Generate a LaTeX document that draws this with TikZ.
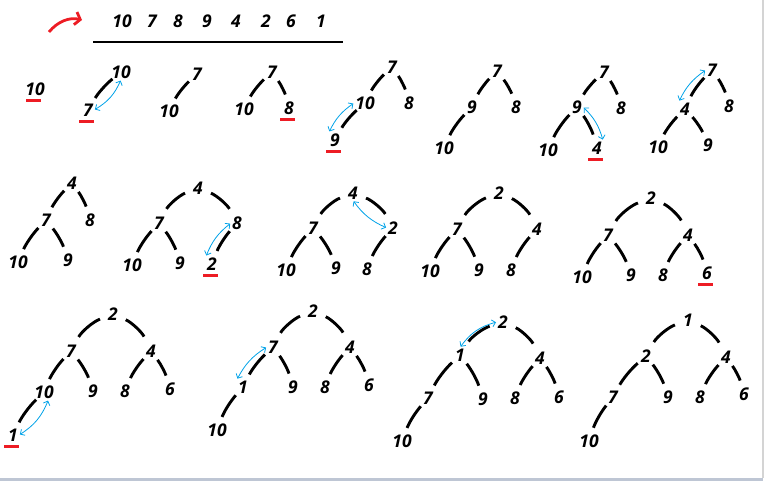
\documentclass[tikz,border=0pt]{standalone}
\usepackage{fontspec}
\newfontfamily\numfont{Open Sans}
\usetikzlibrary{arrows.meta,calc}

\definecolor{markred}{RGB}{237,28,36}
\definecolor{swapblue}{RGB}{0,162,232}
\definecolor{framegray}{RGB}{190,198,212}
\definecolor{sidegray}{RGB}{212,212,212}

\tikzset{
  num/.style={font={\numfont\bfseries\itshape\fontsize{17.5}{17.5}\selectfont}, inner sep=1pt},
  edge/.style={line width=2.9pt, shorten <=11pt, shorten >=14pt},
  arcedge/.style={edge, shorten <=14pt, shorten >=16pt},
  lk/.style={edge, bend right=10},
  rk/.style={edge, bend left=10},
  la/.style={arcedge, bend right=20},
  ra/.style={arcedge, bend left=20},
  swap/.style={draw=swapblue, line width=0.8pt, shorten <=1pt, shorten >=1pt,
    {Straight Barb[length=3.5pt,width=7pt]}-{Straight Barb[length=3.5pt,width=7pt]}},
  underl/.style={draw=markred, line width=2.8pt},
}
% red mark under the value just inserted
\newcommand\redline[1]{\draw[underl] ($(#1)+(-9,11.5)$) -- ($(#1)+(5.5,11.5)$);}

\begin{document}
\begin{tikzpicture}[x=1pt, y=-1pt]
  \useasboundingbox (0,0) rectangle (765,481);

  % window frame
  \draw[sidegray, line width=2pt] (762.5,0) -- (762.5,478);
  \fill[framegray] (0,477.5) rectangle (763,481);

  % input sequence
  \foreach \x/\v [count=\i] in {122/10, 152/7, 178/8, 207/9, 236/4, 266/2, 291/6, 321/1}
    \node[num] (s\i) at (\x,21) {\v};
  \coordinate (lineL) at (93,42);
  \coordinate (lineR) at (343,42);
  \draw[line width=2.9pt] (lineL) -- (lineR);
  \draw[markred, line width=2.8pt, -{Straight Barb[length=5pt,width=13pt]}]
    (49,32) .. controls (58,21) and (70,17) .. (82,20);

  % tree 1
  \node[num] (t1n1) at (35,89) {10};
  \redline{t1n1}

  % tree 2
  \foreach \i/\x/\y/\v in {1/121/72/10, 2/88/110/7}
    \node[num] (t2n\i) at (\x,\y) {\v};
  \draw[lk] (t2n1.center) to (t2n2.center);
  \draw[swap] (t2n1.south) to[bend left=18] (t2n2.east);
  \redline{t2n2}

  % tree 3
  \foreach \i/\x/\y/\v in {1/197/74/7, 2/169/111/10}
    \node[num] (t3n\i) at (\x,\y) {\v};
  \draw[lk] (t3n1.center) to (t3n2.center);

  % tree 4
  \foreach \i/\x/\y/\v in {1/272/72/7, 2/244/109/10, 3/289/108/8}
    \node[num] (t4n\i) at (\x,\y) {\v};
  \foreach \p/\c/\b in {1/2/lk, 1/3/rk}
    \draw[\b] (t4n\p.center) to (t4n\c.center);
  \redline{t4n3}

  % tree 5
  \foreach \i/\x/\y/\v in {1/392/67/7, 2/365/103/10, 3/409/103/8, 4/335/140/9}
    \node[num] (t5n\i) at (\x,\y) {\v};
  \foreach \p/\c/\b in {1/2/lk, 1/3/rk, 2/4/lk}
    \draw[\b] (t5n\p.center) to (t5n\c.center);
  \draw[swap] (t5n2.west) to[bend right=15] (t5n4.north west);
  \redline{t5n4}

  % tree 6
  \foreach \i/\x/\y/\v in {1/497/71/7, 2/472/107/9, 3/516/107/8, 4/444/148/10}
    \node[num] (t6n\i) at (\x,\y) {\v};
  \foreach \p/\c/\b in {1/2/lk, 1/3/rk, 2/4/lk}
    \draw[\b] (t6n\p.center) to (t6n\c.center);

  % tree 7
  \foreach \i/\x/\y/\v in {1/604/72/7, 2/577/107/9, 3/621/108/8, 4/548/150/10, 5/597/148/4}
    \node[num] (t7n\i) at (\x,\y) {\v};
  \foreach \p/\c/\b in {1/2/lk, 1/3/rk, 2/4/lk, 2/5/rk}
    \draw[\b] (t7n\p.center) to (t7n\c.center);
  \draw[swap] (t7n2.east) to[bend left=15] (t7n5.north east);
  \redline{t7n5}

  % tree 8
  \foreach \i/\x/\y/\v in {1/712/70/7, 2/685/109/4, 3/729/106/8, 4/658/147/10, 5/708/145/9}
    \node[num] (t8n\i) at (\x,\y) {\v};
  \foreach \p/\c/\b in {1/2/lk, 1/3/rk, 2/4/lk, 2/5/rk}
    \draw[\b] (t8n\p.center) to (t8n\c.center);
  \draw[swap] (t8n1.west) to[bend right=15] (t8n2.north west);

  % tree 9
  \foreach \i/\x/\y/\v in {1/72/183/4, 2/46/220/7, 3/90/220/8, 4/18/262/10, 5/68/260/9}
    \node[num] (t9n\i) at (\x,\y) {\v};
  \foreach \p/\c/\b in {1/2/lk, 1/3/rk, 2/4/lk, 2/5/rk}
    \draw[\b] (t9n\p.center) to (t9n\c.center);

  % tree 10
  \foreach \i/\x/\y/\v in {1/198/188/4, 2/159/223/7, 3/237/223/8, 4/132/265/10, 5/180/263/9, 6/212/264/2}
    \node[num] (t10n\i) at (\x,\y) {\v};
  \foreach \p/\c/\b in {1/2/la, 1/3/ra, 2/4/lk, 2/5/rk, 3/6/lk}
    \draw[\b] (t10n\p.center) to (t10n\c.center);
  \draw[swap] (t10n3.west) to[bend right=15] (t10n6.north west);
  \redline{t10n6}

  % tree 11
  \foreach \i/\x/\y/\v in {1/353/193/4, 2/313/228/7, 3/393/228/2, 4/286/270/10, 5/336/268/9, 6/367/269/8}
    \node[num] (t11n\i) at (\x,\y) {\v};
  \foreach \p/\c/\b in {1/2/la, 1/3/ra, 2/4/lk, 2/5/rk, 3/6/lk}
    \draw[\b] (t11n\p.center) to (t11n\c.center);
  \draw[swap] (t11n1.south) to[bend right=15] (t11n3.west);

  % tree 12
  \foreach \i/\x/\y/\v in {1/499/193/2, 2/457/229/7, 3/537/229/4, 4/430/271/10, 5/479/270/9, 6/511/270/8}
    \node[num] (t12n\i) at (\x,\y) {\v};
  \foreach \p/\c/\b in {1/2/la, 1/3/ra, 2/4/lk, 2/5/rk, 3/6/lk}
    \draw[\b] (t12n\p.center) to (t12n\c.center);

  % tree 13
  \foreach \i/\x/\y/\v in {1/651/198/2, 2/608/235/7, 3/688/235/4, 4/582/277/10, 5/631/275/9, 6/663/275/8, 7/707/273/6}
    \node[num] (t13n\i) at (\x,\y) {\v};
  \foreach \p/\c/\b in {1/2/la, 1/3/ra, 2/4/lk, 2/5/rk, 3/6/lk, 3/7/rk}
    \draw[\b] (t13n\p.center) to (t13n\c.center);
  \redline{t13n7}

  % tree 14
  \foreach \i/\x/\y/\v in {1/113/314/2, 2/71/351/7, 3/151/351/4, 4/44/392/10, 5/93/391/9, 6/125/391/8, 7/170/389/6, 8/13/435/1}
    \node[num] (t14n\i) at (\x,\y) {\v};
  \foreach \p/\c/\b in {1/2/la, 1/3/ra, 2/4/lk, 2/5/rk, 3/6/lk, 3/7/rk, 4/8/lk}
    \draw[\b] (t14n\p.center) to (t14n\c.center);
  \draw[swap] (t14n4.-60) to[bend left=18] (t14n8.east);
  \redline{t14n8}

  % tree 15
  \foreach \i/\x/\y/\v in {1/313/311/2, 2/273/347/7, 3/350/347/4, 4/243/387/1, 5/293/387/9, 6/325/387/8, 7/369/385/6, 8/217/430/10}
    \node[num] (t15n\i) at (\x,\y) {\v};
  \foreach \p/\c/\b in {1/2/la, 1/3/ra, 2/4/lk, 2/5/rk, 3/6/lk, 3/7/rk, 4/8/lk}
    \draw[\b] (t15n\p.center) to (t15n\c.center);
  \draw[swap] (t15n2.west) to[bend right=15] (t15n4.north west);

  % tree 16
  \foreach \i/\x/\y/\v in {1/503/322/2, 2/460/355/1, 3/540/358/4, 4/428/398/7, 5/483/399/9, 6/515/398/8, 7/559/397/6, 8/402/441/10}
    \node[num] (t16n\i) at (\x,\y) {\v};
  \foreach \p/\c/\b in {1/2/la, 1/3/ra, 2/4/lk, 2/5/rk, 3/6/lk, 3/7/rk, 4/8/lk}
    \draw[\b] (t16n\p.center) to (t16n\c.center);
  \draw[swap] (t16n1.west) to[bend right=20] (t16n2.north);

  % tree 17
  \foreach \i/\x/\y/\v in {1/688/320/1, 2/646/356/2, 3/726/357/4, 4/613/397/7, 5/668/397/9, 6/700/397/8, 7/744/394/6, 8/589/441/10}
    \node[num] (t17n\i) at (\x,\y) {\v};
  \foreach \p/\c/\b in {1/2/la, 1/3/ra, 2/4/lk, 2/5/rk, 3/6/lk, 3/7/rk, 4/8/lk}
    \draw[\b] (t17n\p.center) to (t17n\c.center);
\end{tikzpicture}
\end{document}
